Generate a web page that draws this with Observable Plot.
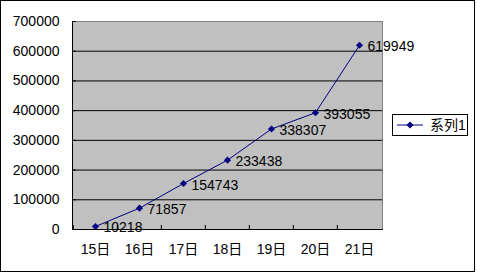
<!DOCTYPE html>
<html>
<head>
<meta charset="utf-8">
<script src="https://cdn.jsdelivr.net/npm/d3@7"></script>
<script src="https://cdn.jsdelivr.net/npm/@observablehq/plot@0.6"></script>
<style>
  html, body { margin: 0; padding: 0; background: #fff; }
  #wrap { position: relative; width: 477px; height: 273px; overflow: hidden; }
  #frame { position: absolute; left: 0; top: 0; width: 473px; height: 270px; border: 1.5px solid #000; pointer-events: none; }
  #legend { position: absolute; left: 392px; top: 114px; width: 74px; height: 20px; border: 1px solid #000; background: #fff;
            font: 14px "Liberation Sans", "Noto Sans CJK SC", sans-serif; display: flex; align-items: center; }
  #legend svg { margin-left: 4px; }
  #legend span { margin-left: 7px; line-height: 20px; }
</style>
</head>
<body>
<div id="wrap"></div>
<script>
const days = ["15日", "16日", "17日", "18日", "19日", "20日", "21日"];
const values = [10218, 71857, 154743, 233438, 338307, 393055, 619949];
const yTicks = [0, 100000, 200000, 300000, 400000, 500000, 600000, 700000];
const gridTicks = [100000, 200000, 300000, 400000, 500000, 600000];
const seriesName = "系列1";

const data = days.map((d, i) => ({day: d, value: values[i]}));
const FONT = '"Liberation Sans", "Noto Sans CJK SC", sans-serif';
const W = 477, H = 273;
const mL = 72, mR = 95, mT = 21, mB = 44;
const bw = (W - mL - mR) / days.length;

const chart = Plot.plot({
  width: W,
  height: H,
  marginLeft: mL,
  marginRight: mR,
  marginTop: mT,
  marginBottom: mB,
  style: {fontFamily: FONT, fontSize: "14px", background: "#fff", color: "#000"},
  x: {type: "band", domain: days, padding: 0, label: null},
  y: {domain: [0, 700000], label: null},
  marks: [
    Plot.frame({fill: "#c0c0c0", stroke: "#808080"}),
    Plot.ruleY(gridTicks, {stroke: "#000", strokeWidth: 1}),
    Plot.frame({anchor: "left", stroke: "#000"}),
    Plot.frame({anchor: "bottom", stroke: "#000"}),
    Plot.axisY({ticks: yTicks, tickSize: 4, dx: 4, text: null, stroke: "#000"}),
    Plot.axisY({ticks: yTicks, tickSize: 0, tickPadding: 13, tickFormat: d => String(d), fontSize: 14, fill: "#000", label: null}),
    Plot.axisX({tickSize: 4, dx: -bw / 2, dy: -4, text: null, stroke: "#000"}),
    Plot.axisX({tickSize: 0, tickPadding: 15, fontSize: 14, fill: "#000", label: null}),
    Plot.line(data, {x: "day", y: "value", stroke: "#000080", strokeWidth: 1}),
    Plot.dot(data, {x: "day", y: "value", symbol: "diamond2", r: 3.2, fill: "#000080", stroke: "none"}),
    Plot.text(data, {x: "day", y: "value", text: d => String(d.value), textAnchor: "start", dx: 8, dy: 1.5, fontSize: 14, fill: "#000"})
  ]
});

const wrap = document.getElementById("wrap");
wrap.appendChild(chart);
const frame = document.createElement("div");
frame.id = "frame";
wrap.appendChild(frame);
const legend = document.createElement("div");
legend.id = "legend";
legend.innerHTML = '<svg width="26" height="10" viewBox="0 0 26 10"><line x1="0" y1="5" x2="26" y2="5" stroke="#000080" stroke-width="1"/><path d="M13 1.5 L16.5 5 L13 8.5 L9.5 5 Z" fill="#000080"/></svg><span></span>';
legend.querySelector("span").textContent = seriesName;
wrap.appendChild(legend);
</script>
</body>
</html>
